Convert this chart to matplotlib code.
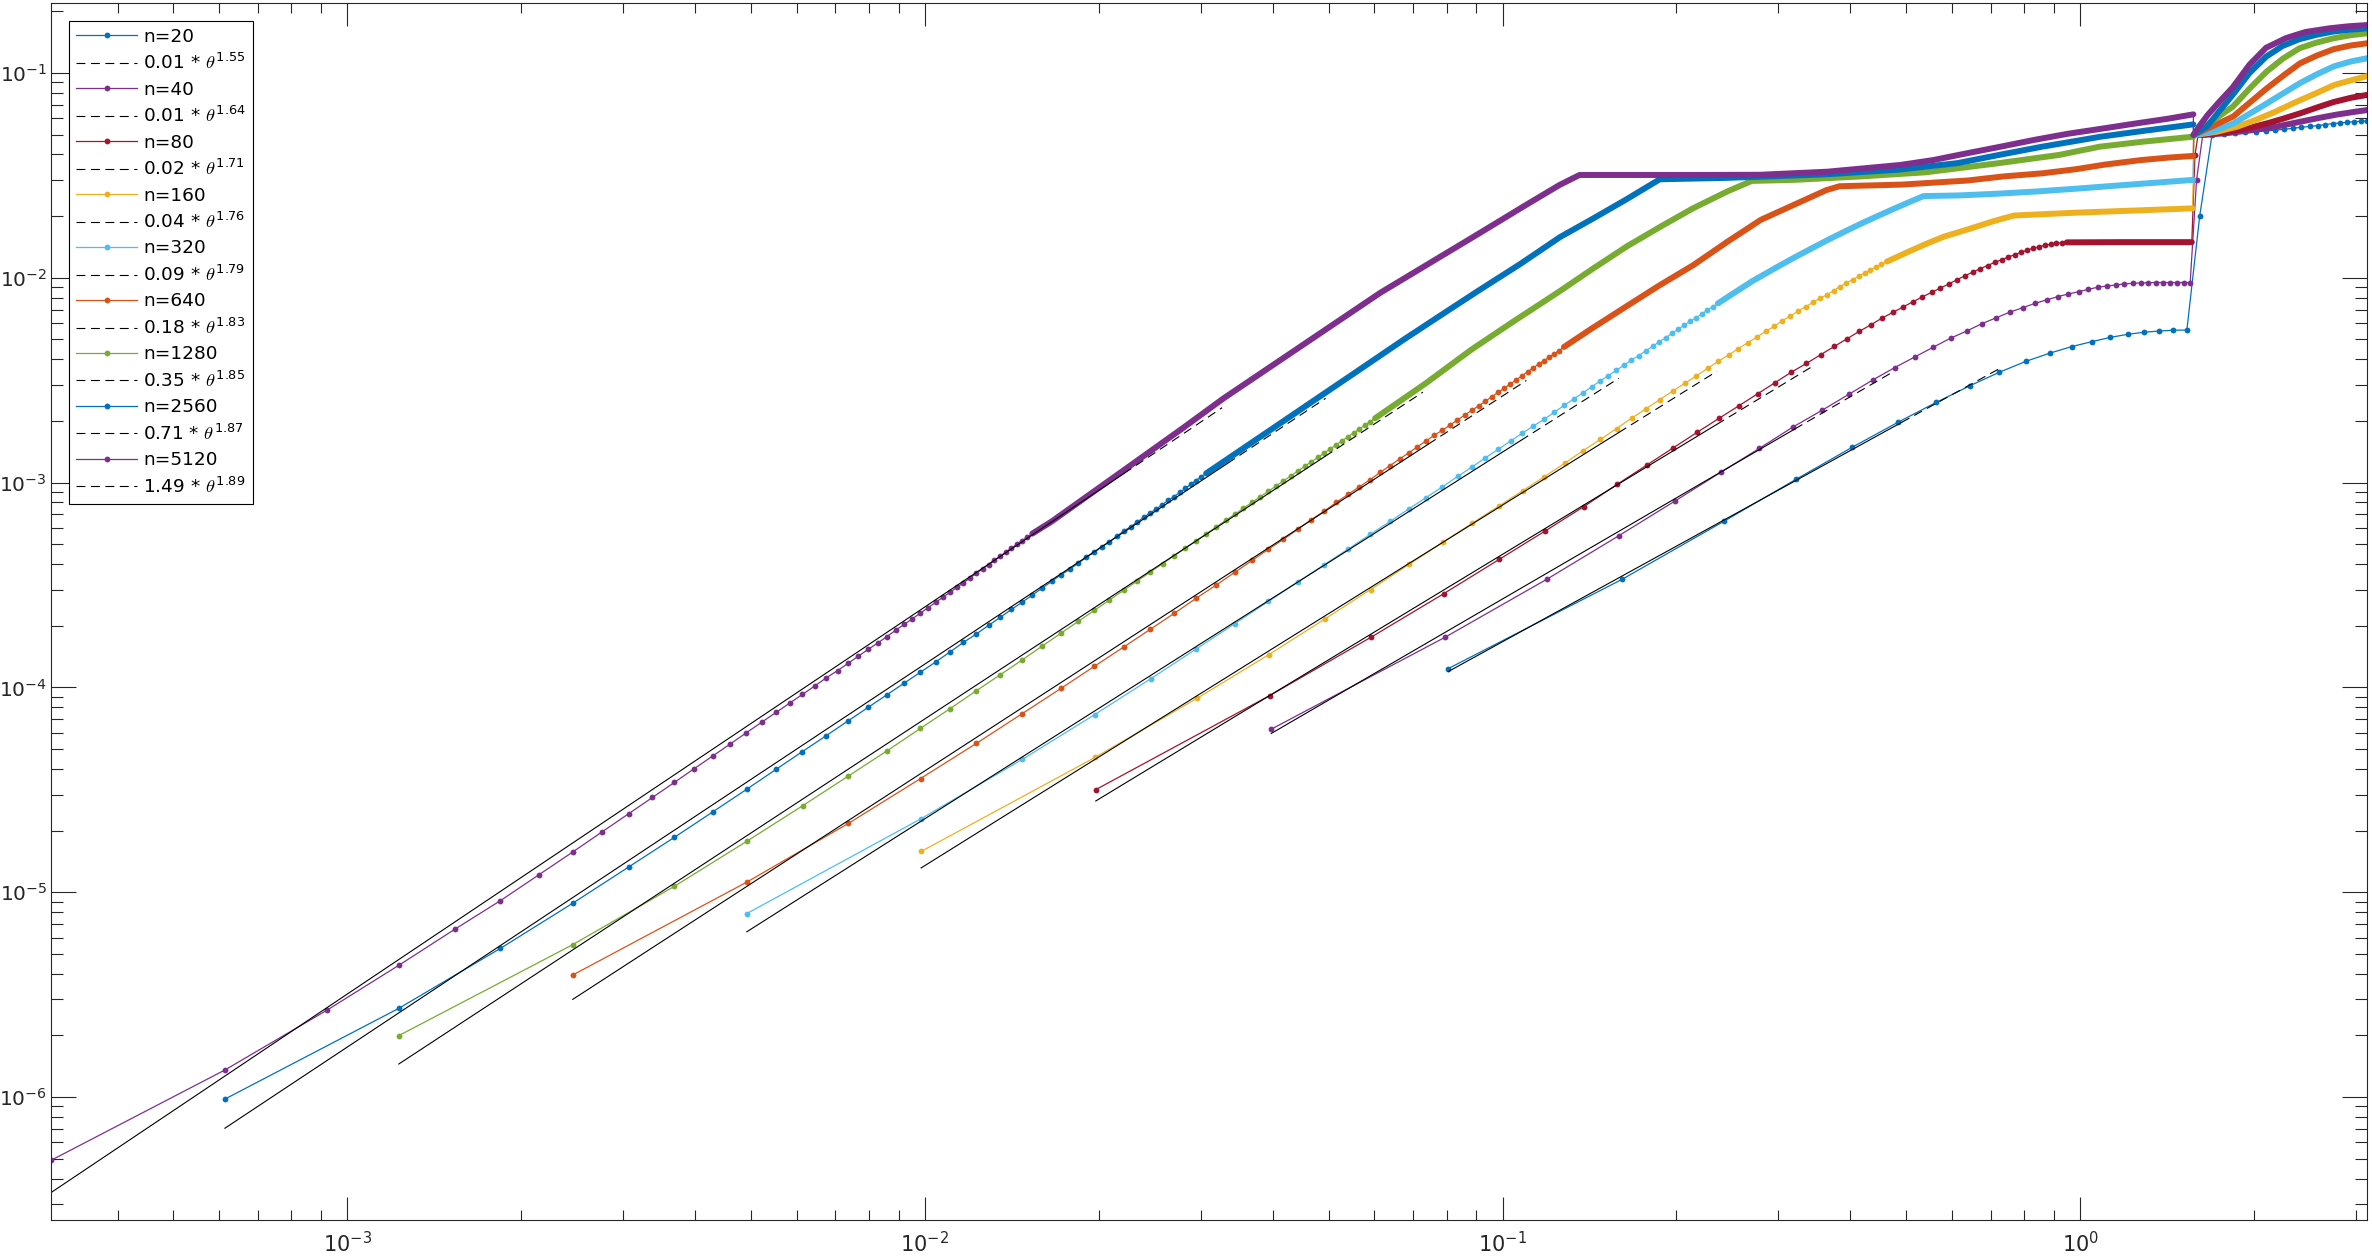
import numpy as np
import matplotlib
matplotlib.use('Agg')
import matplotlib.pyplot as plt
from matplotlib.lines import Line2D
from matplotlib.ticker import FixedLocator, LogLocator, NullFormatter

plt.rcParams['font.family'] = ['DejaVu Sans']
plt.rcParams['mathtext.fontset'] = 'cm'

n_values = [20, 40, 80, 160, 320, 640, 1280, 2560, 5120]
colors = ['#0072BD', '#7E2F8E', '#A2142F', '#EDB120', '#4DBEEE',
          '#D95319', '#77AC30', '#0072BD', '#7E2F8E']

# labelled decades
x_ticks = [1e-3, 1e-2, 1e-1, 1e0]
y_ticks = [1e-6, 1e-5, 1e-4, 1e-3, 1e-2, 1e-1]

# power law fits c * theta^p, drawn from the first sample up to fit_end
fit_coef = [0.00593, 0.0118, 0.0229, 0.0447, 0.0869, 0.179, 0.352, 0.715, 1.49]
fit_exp = [1.55, 1.64, 1.71, 1.76, 1.79, 1.83, 1.85, 1.87, 1.89]
fit_end = [0.726, 0.474, 0.347, 0.235, 0.159, 0.110, 0.0728, 0.0494, 0.0327]

# k = sample index on theta = linspace(0, pi, 2n); values are log10
k_20 = list(range(1, 40))
logv_20 = [-3.908, -3.472, -3.189, -2.984, -2.828, -2.706, -2.608, -2.527, -2.461, -2.408,
           -2.368, -2.336, -2.312, -2.291, -2.276, -2.266, -2.260, -2.256, -2.255, -1.697,
           -1.303, -1.298, -1.294, -1.290, -1.287, -1.283, -1.279, -1.275, -1.270, -1.265,
           -1.261, -1.257, -1.252, -1.247, -1.244, -1.241, -1.238, -1.236, -1.234]

k_40 = list(range(1, 42)) + [45, 50, 55, 60, 65, 70, 75, 79]
logv_40 = [-4.204, -3.755, -3.472, -3.259, -3.090, -2.950, -2.833, -2.729, -2.646, -2.569,
           -2.499, -2.439, -2.387, -2.339, -2.295, -2.260, -2.224, -2.195, -2.168, -2.146,
           -2.125, -2.108, -2.092, -2.079, -2.068, -2.056, -2.046, -2.040, -2.035, -2.030,
           -2.027, -2.025, -2.024, -2.023, -2.023, -2.023, -2.023, -2.023, -2.023, -1.524,
           -1.303, -1.294, -1.279, -1.262, -1.240, -1.220, -1.203, -1.190, -1.181]

k_80 = list(range(1, 49)) + [60, 79, 80, 81, 88, 93, 100, 107, 114, 122, 130, 139, 149, 159]
logv_80 = [-4.499, -4.040, -3.754, -3.543, -3.374, -3.236, -3.117, -3.008, -2.914, -2.830,
           -2.754, -2.686, -2.624, -2.566, -2.512, -2.461, -2.418, -2.375, -2.335, -2.297,
           -2.261, -2.229, -2.196, -2.169, -2.142, -2.117, -2.093, -2.071, -2.050, -2.030,
           -2.009, -1.990, -1.972, -1.955, -1.940, -1.925, -1.912, -1.899, -1.887, -1.876,
           -1.865, -1.856, -1.848, -1.841, -1.836, -1.832, -1.829, -1.827,
           -1.826, -1.826, -1.400, -1.303, -1.293, -1.283, -1.266, -1.245, -1.222, -1.196,
           -1.169, -1.142, -1.121, -1.107]

k_160 = list(range(1, 48)) + [51, 55, 59, 65, 72, 78, 100, 125, 159, 160,
                              175, 190, 205, 220, 240, 260, 280, 300, 319]
logv_160 = [-4.801, -4.342, -4.054, -3.840, -3.666, -3.522, -3.399, -3.292, -3.198, -3.115,
            -3.040, -2.971, -2.906, -2.844, -2.789, -2.736, -2.685, -2.639, -2.595, -2.554,
            -2.515, -2.479, -2.442, -2.408, -2.377, -2.346, -2.317, -2.289, -2.261, -2.237,
            -2.209, -2.187, -2.162, -2.141, -2.120, -2.100, -2.083, -2.063, -2.043, -2.025,
            -2.009, -1.993, -1.977, -1.962, -1.947, -1.934, -1.921,
            -1.875, -1.834, -1.799, -1.763, -1.723, -1.696, -1.682, -1.672, -1.661, -1.303,
            -1.287, -1.262, -1.228, -1.192, -1.142, -1.099, -1.058, -1.035, -1.015]

k_320 = list(range(1, 49)) + [55, 61, 65, 70, 75, 80, 85, 90, 97, 103,
                              109, 125, 145, 170, 200, 240, 280, 319, 320, 345,
                              375, 401, 429, 458, 489, 523, 559, 598, 639]
logv_320 = [-5.104, -4.642, -4.351, -4.133, -3.958, -3.812, -3.688, -3.580, -3.485, -3.400,
            -3.324, -3.253, -3.189, -3.128, -3.073, -3.021, -2.970, -2.924, -2.879, -2.837,
            -2.797, -2.759, -2.724, -2.691, -2.657, -2.623, -2.592, -2.563, -2.533, -2.504,
            -2.478, -2.452, -2.427, -2.401, -2.380, -2.357, -2.335, -2.312, -2.292, -2.271,
            -2.250, -2.230, -2.212, -2.195, -2.177, -2.159, -2.141, -2.125,
            -2.017, -1.945, -1.902, -1.854, -1.810, -1.771, -1.735, -1.703, -1.662, -1.630,
            -1.601, -1.598, -1.590, -1.579, -1.565, -1.548, -1.534, -1.522, -1.303, -1.285,
            -1.246, -1.197, -1.147, -1.098, -1.049, -1.006, -0.968, -0.944, -0.928]

k_640 = list(range(1, 53)) + [58, 67, 76, 87, 100, 114, 130, 148, 156, 200,
                              260, 300, 350, 400, 450, 520, 580, 639, 640, 690,
                              750, 802, 857, 915, 978, 1046, 1118, 1196, 1279]
logv_640 = [-5.404, -4.951, -4.664, -4.445, -4.273, -4.128, -4.005, -3.897, -3.802, -3.716,
            -3.638, -3.565, -3.500, -3.438, -3.380, -3.326, -3.277, -3.228, -3.181, -3.139,
            -3.096, -3.057, -3.021, -2.986, -2.950, -2.917, -2.885, -2.855, -2.825, -2.797,
            -2.769, -2.745, -2.720, -2.694, -2.671, -2.647, -2.626, -2.603, -2.581, -2.559,
            -2.539, -2.518, -2.499, -2.478, -2.459, -2.440, -2.422, -2.405, -2.388, -2.372,
            -2.355, -2.338,
            -2.249, -2.136, -2.038, -1.939, -1.822, -1.717, -1.644, -1.572, -1.553, -1.545,
            -1.525, -1.505, -1.490, -1.470, -1.447, -1.425, -1.413, -1.405, -1.303, -1.260,
            -1.212, -1.143, -1.075, -1.013, -0.953, -0.915, -0.884, -0.866, -0.855]

k_1280 = list(range(1, 50)) + [60, 72, 85, 102, 117, 134, 153, 174, 199, 220,
                               260, 340, 440, 590, 750, 880, 1050, 1279, 1280, 1378,
                               1498, 1602, 1712, 1828, 1954, 2089, 2234, 2389, 2559]
logv_1280 = [-5.700, -5.256, -4.971, -4.752, -4.578, -4.433, -4.310, -4.200, -4.104, -4.016,
             -3.938, -3.866, -3.798, -3.736, -3.678, -3.624, -3.573, -3.525, -3.480, -3.437,
             -3.396, -3.357, -3.320, -3.284, -3.250, -3.217, -3.185, -3.155, -3.125, -3.097,
             -3.069, -3.043, -3.017, -2.992, -2.968, -2.944, -2.921, -2.899, -2.877, -2.856,
             -2.835, -2.815, -2.795, -2.776, -2.757, -2.739, -2.721, -2.703, -2.686,
             -2.515, -2.350, -2.214, -2.068, -1.954, -1.845, -1.750, -1.661, -1.580, -1.527,
             -1.522, -1.505, -1.485, -1.440, -1.400, -1.360, -1.335, -1.311, -1.303, -1.235,
             -1.164, -1.075, -0.994, -0.930, -0.879, -0.852, -0.831, -0.816, -0.806]

k_2560 = list(range(1, 51)) + [60, 75, 90, 110, 128, 148, 175, 205, 234, 267,
                               305, 400, 590, 790, 1000, 1180, 1400, 1770, 2120, 2559,
                               2560, 2620, 2700, 2750, 2850, 2994, 3201, 3422, 3653, 3905,
                               4174, 4462, 4771, 5119]
logv_2560 = [-6.010, -5.567, -5.274, -5.054, -4.877, -4.732, -4.607, -4.498, -4.400, -4.313,
             -4.235, -4.163, -4.097, -4.036, -3.979, -3.926, -3.876, -3.827, -3.780, -3.739,
             -3.697, -3.658, -3.619, -3.584, -3.549, -3.515, -3.482, -3.451, -3.424, -3.394,
             -3.365, -3.340, -3.313, -3.289, -3.262, -3.237, -3.215, -3.192, -3.169, -3.148,
             -3.128, -3.107, -3.086, -3.068, -3.048, -3.028, -3.009, -2.990, -2.972, -2.955,
             -2.804, -2.619, -2.468, -2.301, -2.179, -2.063, -1.932, -1.801, -1.710, -1.617,
             -1.519, -1.512, -1.495, -1.472, -1.440, -1.400, -1.360, -1.311, -1.281, -1.251,
             -1.303, -1.285, -1.262, -1.235, -1.180, -1.107, -1.000, -0.920, -0.868, -0.835,
             -0.814, -0.798, -0.789, -0.782]

k_5120 = list(range(1, 51)) + [54, 70, 91, 107, 144, 200, 297, 360, 409, 443,
                               700, 910, 1190, 1593, 1816, 2076, 2372, 2711, 3100, 3552,
                               4035, 4609, 5119, 5120, 5250, 5420, 5680, 5990, 6400, 6840,
                               7400, 8000, 8800, 9500, 10239]
logv_5120 = [-6.309, -5.868, -5.577, -5.357, -5.181, -5.041, -4.914, -4.804, -4.705, -4.617,
             -4.537, -4.464, -4.396, -4.334, -4.276, -4.221, -4.170, -4.122, -4.077, -4.034,
             -3.993, -3.953, -3.918, -3.882, -3.847, -3.814, -3.783, -3.752, -3.721, -3.692,
             -3.665, -3.637, -3.611, -3.585, -3.560, -3.536, -3.512, -3.489, -3.466, -3.443,
             -3.421, -3.400, -3.379, -3.359, -3.339, -3.320, -3.301, -3.283, -3.266, -3.249,
             -3.190, -2.964, -2.735, -2.590, -2.345, -2.074, -1.783, -1.640, -1.547, -1.498,
             -1.498, -1.497, -1.482, -1.449, -1.425, -1.392, -1.360, -1.327, -1.297, -1.272,
             -1.248, -1.224, -1.202, -1.303, -1.257, -1.205, -1.140, -1.070, -0.960, -0.877,
             -0.830, -0.800, -0.782, -0.772, -0.766]

series_k = [k_20, k_40, k_80, k_160, k_320, k_640, k_1280, k_2560, k_5120]
series_v = [logv_20, logv_40, logv_80, logv_160, logv_320, logv_640, logv_1280, logv_2560, logv_5120]

# where the markers merge into a solid band (index before / after pi/2)
band_pre = [None, None, 48, 47, 48, 52, 49, 50, 50]
band_post = [None, 41, 81, 160, 320, 640, 1280, 2560, 5120]

axc = (0.15, 0.15, 0.15)

fig = plt.figure(figsize=(23.72, 12.58), dpi=100)
ax = fig.add_axes([0.0215, 0.0302, 0.9765, 0.9677])
ax.set_xscale('log')
ax.set_yscale('log')

handles = []
labels = []
for i, n in enumerate(n_values):
    c = colors[i]
    k = np.array(series_k[i])
    theta = k * np.pi / (2 * n - 1)
    val = 10.0 ** np.array(series_v[i])

    pre_from = band_pre[i] if band_pre[i] else np.inf
    post_from = band_post[i] if band_post[i] else np.inf
    before = theta < np.pi / 2
    marked = np.where(before, k < pre_from, k < post_from)

    ax.plot(theta, val, '-', color=c, lw=0.9)
    ax.plot(theta[marked], val[marked], 'o', color=c, ms=4.2, mew=0)
    pre = before & (k >= pre_from)
    if pre.any():
        ax.plot(theta[pre], val[pre], '-', color=c, lw=4.3,
                solid_capstyle='round', solid_joinstyle='round')
    post = k >= post_from
    if post.any():
        ax.plot(theta[post], val[post], '-', color=c, lw=4.3,
                solid_capstyle='round', solid_joinstyle='round')
    handles.append(Line2D([], [], color=c, lw=0.9, marker='o', ms=4.2, mew=0))
    labels.append('n=%d' % n)

    # fit line: renders solid over most of its length, dashed near the top end
    cf, p = fit_coef[i], fit_exp[i]
    t0 = np.pi / (2 * n - 1)
    t1 = fit_end[i]
    tm = t1 / 10 ** 0.17
    ts = np.array([t0, tm])
    td = np.array([tm, t1])
    ax.plot(ts, cf * ts ** p, '-', color='k', lw=0.8)
    fl, = ax.plot(td, cf * td ** p, color='k', lw=0.8, ls=(0, (8, 5)))
    handles.append(fl)
    labels.append(r'%.2f * $\theta^{\mathdefault{%.2f}}$' % (cf, p))

ax.set_xlim(np.pi / 10239, np.pi)
ax.set_ylim(2.51e-7, 0.2205)

ax.xaxis.set_major_locator(FixedLocator(x_ticks))
ax.yaxis.set_major_locator(FixedLocator(y_ticks))
ax.xaxis.set_minor_locator(LogLocator(base=10, subs=np.arange(2, 10), numticks=100))
ax.yaxis.set_minor_locator(LogLocator(base=10, subs=np.arange(2, 10), numticks=100))
ax.xaxis.set_minor_formatter(NullFormatter())
ax.yaxis.set_minor_formatter(NullFormatter())

for s in ax.spines.values():
    s.set_color(axc)
    s.set_linewidth(0.8)
ax.tick_params(which='both', direction='in', top=True, right=True,
               color=axc, width=0.8, labelcolor=axc, labelsize=15)
ax.tick_params(axis='x', which='major', length=16.5, pad=8)
ax.tick_params(axis='x', which='minor', length=7)
ax.tick_params(axis='y', which='major', length=18, pad=3, labelsize=14.5)
ax.tick_params(axis='y', which='minor', length=8.5)

leg = ax.legend(handles, labels, loc='upper left', bbox_to_anchor=(0.0078, 0.9852),
                borderaxespad=0, fontsize=13.3, handlelength=3.3, handletextpad=0.33,
                labelspacing=0.40, borderpad=0.38, fancybox=False, framealpha=1,
                edgecolor='k')
leg.get_frame().set_linewidth(0.8)

fig.savefig('out.png', dpi=100)
